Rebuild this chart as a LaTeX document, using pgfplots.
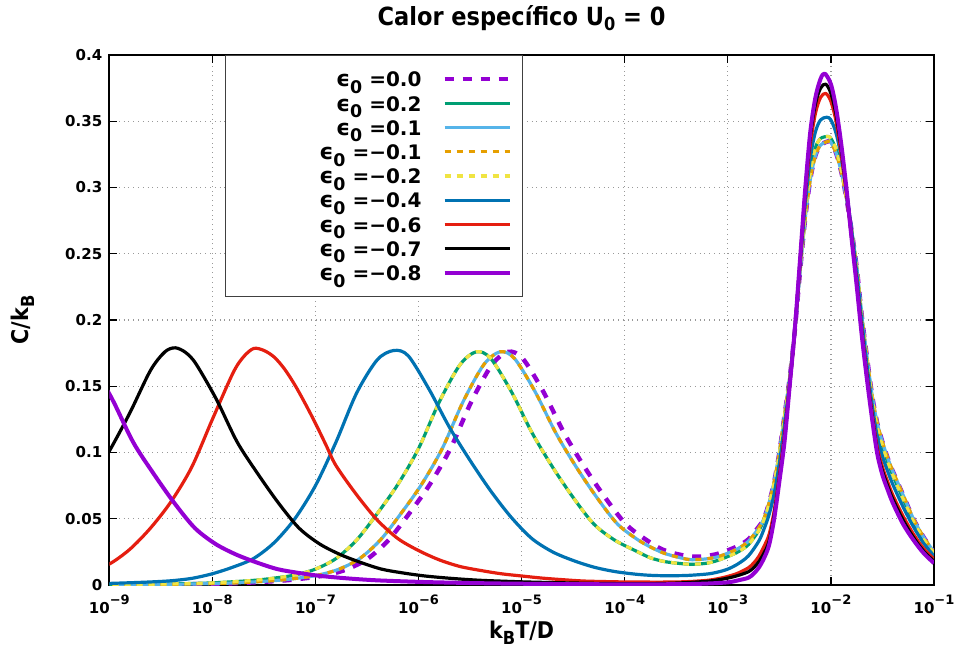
\documentclass[border=0pt]{standalone}
\usepackage{fontspec}
\setmainfont{DejaVu Sans}
\newfontfamily\condfont[FakeStretch=0.9]{DejaVu Sans}
\usepackage{pgfplots}
\usepackage{pgfplotstable}
\pgfplotsset{compat=1.18}

\definecolor{cpurple}{RGB}{148,0,211}
\definecolor{cgreen}{RGB}{0,158,115}
\definecolor{ccyan}{RGB}{86,180,233}
\definecolor{corange}{RGB}{230,159,0}
\definecolor{cyellow}{RGB}{240,228,66}
\definecolor{cblue}{RGB}{0,114,178}
\definecolor{cred}{RGB}{229,30,16}

\newcommand{\leg}[1]{\rule[-3pt]{0pt}{12.15pt}\makebox[92.5pt][r]{{\fontsize{11}{12}\selectfont ϵ}\raisebox{-3.3pt}{\fontsize{8.7}{9}\selectfont 0} =#1}}
\newcommand{\sub}[1]{\raisebox{-2.6pt}{\fontsize{9}{9}\selectfont #1}}
\newcommand{\etick}[1]{10\raisebox{4.3pt}{\fontsize{6.5}{7}\selectfont −#1}}

% columns: lx = log10(kB T/D), y = C/kB
% eps0 = 0.0
\pgfplotstableread{
lx y
-8.89 0.0002
-8.49 0.0004
-8.09 0.0008
-7.69 0.0016
-7.29 0.0035
-7.09 0.0052
-6.89 0.0075
-6.69 0.012
-6.49 0.020
-6.29 0.034
-6.09 0.054
-5.89 0.076
-5.69 0.103
-5.49 0.138
-5.29 0.166
-5.13 0.176
-4.99 0.171
-4.79 0.146
-4.59 0.115
-4.39 0.089
-4.19 0.066
-3.99 0.046
-3.79 0.034
-3.64 0.027
-3.5 0.0235
-3.4 0.0220
-3.3 0.0214
-3.2 0.0220
-3.1 0.0235
-3.0 0.0262
-2.9 0.0295
-2.8 0.0345
-2.7 0.0440
-2.65 0.0500
-2.6 0.0620
-2.55 0.0780
-2.5 0.1000
-2.45 0.1280
-2.4 0.1560
-2.35 0.1920
-2.3 0.2360
-2.25 0.2760
-2.2 0.3060
-2.15 0.3240
-2.1 0.3320
-2.02 0.3350
-2.0 0.3340
-1.95 0.3260
-1.9 0.3120
-1.85 0.2920
-1.8 0.2680
-1.75 0.2400
-1.7 0.2030
-1.65 0.1720
-1.6 0.1430
-1.55 0.1220
-1.5 0.1080
-1.45 0.0960
-1.4 0.0860
-1.3 0.0680
-1.2 0.0500
-1.1 0.0360
-1.0 0.0250
}\tzero

% eps0 = +-0.2
\pgfplotstableread{
lx y
-9.2 0.0002
-8.8 0.0004
-8.4 0.0008
-8.0 0.0016
-7.6 0.0035
-7.4 0.0052
-7.2 0.0075
-7.0 0.012
-6.8 0.020
-6.6 0.034
-6.4 0.054
-6.2 0.076
-6.0 0.103
-5.8 0.138
-5.6 0.166
-5.44 0.176
-5.3 0.171
-5.1 0.146
-4.9 0.115
-4.7 0.089
-4.5 0.066
-4.3 0.046
-4.1 0.034
-3.9 0.026
-3.75 0.0205
-3.6 0.0175
-3.4 0.0158
-3.3 0.0158
-3.2 0.0165
-3.1 0.0185
-3.0 0.0215
-2.9 0.0250
-2.8 0.0305
-2.7 0.0410
-2.65 0.0490
-2.6 0.0610
-2.55 0.0770
-2.5 0.0990
-2.45 0.1270
-2.4 0.1560
-2.35 0.1930
-2.3 0.2380
-2.25 0.2790
-2.2 0.3110
-2.15 0.3300
-2.1 0.3370
-2.03 0.3385
-2.0 0.3370
-1.95 0.3290
-1.9 0.3140
-1.85 0.2930
-1.8 0.2680
-1.75 0.2390
-1.7 0.2020
-1.65 0.1700
-1.6 0.1410
-1.55 0.1190
-1.5 0.1050
-1.45 0.0930
-1.4 0.0830
-1.3 0.0650
-1.2 0.0480
-1.1 0.0345
-1.0 0.0240
}\ttwo

% eps0 = +-0.1
\pgfplotstableread{
lx y
-8.97 0.0002
-8.57 0.0004
-8.17 0.0008
-7.77 0.0016
-7.37 0.0035
-7.17 0.0052
-6.97 0.0075
-6.77 0.012
-6.57 0.020
-6.37 0.034
-6.17 0.054
-5.97 0.076
-5.77 0.103
-5.57 0.138
-5.37 0.166
-5.21 0.176
-5.07 0.171
-4.87 0.146
-4.67 0.115
-4.47 0.089
-4.27 0.066
-4.07 0.046
-3.87 0.034
-3.72 0.0275
-3.6 0.0235
-3.4 0.0195
-3.3 0.0192
-3.2 0.0198
-3.1 0.0212
-3.0 0.0240
-2.9 0.0275
-2.8 0.0330
-2.7 0.0430
-2.65 0.0500
-2.6 0.0620
-2.55 0.0780
-2.5 0.1000
-2.45 0.1280
-2.4 0.1560
-2.35 0.1920
-2.3 0.2360
-2.25 0.2760
-2.2 0.3060
-2.15 0.3240
-2.1 0.3320
-2.02 0.3350
-2.0 0.3340
-1.95 0.3260
-1.9 0.3120
-1.85 0.2920
-1.8 0.2680
-1.75 0.2400
-1.7 0.2030
-1.65 0.1720
-1.6 0.1430
-1.55 0.1220
-1.5 0.1080
-1.45 0.0960
-1.4 0.0860
-1.3 0.0680
-1.2 0.0500
-1.1 0.0360
-1.0 0.0250
}\tone

% eps0 = -0.4
\pgfplotstableread{
lx y
-9.2 0.0008
-9.0 0.0012
-8.8 0.0017
-8.6 0.0023
-8.4 0.0032
-8.2 0.0050
-8.0 0.0085
-7.8 0.0135
-7.6 0.020
-7.4 0.032
-7.2 0.050
-7.0 0.075
-6.8 0.108
-6.6 0.145
-6.4 0.170
-6.24 0.177
-6.1 0.173
-5.9 0.148
-5.7 0.119
-5.5 0.094
-5.3 0.071
-5.1 0.051
-4.9 0.035
-4.7 0.025
-4.5 0.0185
-4.3 0.0135
-4.1 0.0102
-3.9 0.0082
-3.75 0.0073
-3.6 0.0070
-3.4 0.0072
-3.2 0.0083
-3.1 0.0097
-3.0 0.0120
-2.9 0.0160
-2.8 0.0220
-2.7 0.0330
-2.65 0.0420
-2.6 0.0530
-2.55 0.0690
-2.5 0.0920
-2.45 0.1210
-2.4 0.1530
-2.35 0.1920
-2.3 0.2400
-2.25 0.2860
-2.2 0.3220
-2.15 0.3420
-2.1 0.3510
-2.04 0.3530
-2.0 0.3510
-1.95 0.3410
-1.9 0.3230
-1.85 0.2980
-1.8 0.2680
-1.75 0.2360
-1.7 0.1990
-1.65 0.1660
-1.6 0.1360
-1.55 0.1120
-1.5 0.0970
-1.45 0.0860
-1.4 0.0760
-1.3 0.0590
-1.2 0.0440
-1.1 0.0315
-1.0 0.0220
}\tfour

% eps0 = -0.6
\pgfplotstableread{
lx y
-9.2 0.010
-9.0 0.0158
-8.8 0.027
-8.6 0.043
-8.4 0.063
-8.2 0.089
-8.0 0.125
-7.8 0.160
-7.7 0.172
-7.6 0.1785
-7.5 0.177
-7.4 0.172
-7.3 0.163
-7.2 0.151
-7.1 0.137
-7.0 0.122
-6.9 0.106
-6.8 0.090
-6.6 0.068
-6.4 0.049
-6.2 0.035
-6.0 0.026
-5.8 0.019
-5.6 0.014
-5.4 0.011
-5.2 0.0085
-5.0 0.0068
-4.8 0.0052
-4.6 0.0040
-4.4 0.0030
-4.2 0.0026
-4.0 0.0023
-3.8 0.0022
-3.6 0.0022
-3.4 0.0025
-3.2 0.0035
-3.1 0.0047
-3.0 0.0065
-2.9 0.0090
-2.8 0.0130
-2.75 0.0165
-2.7 0.0215
-2.65 0.0290
-2.6 0.0380
-2.55 0.0560
-2.5 0.0830
-2.45 0.1140
-2.4 0.1510
-2.35 0.1920
-2.3 0.2430
-2.25 0.2930
-2.2 0.3320
-2.15 0.3560
-2.1 0.3680
-2.05 0.3710
-2.0 0.3650
-1.95 0.3500
-1.9 0.3250
-1.85 0.2960
-1.8 0.2630
-1.75 0.2290
-1.7 0.1920
-1.65 0.1590
-1.6 0.1300
-1.55 0.1040
-1.5 0.0890
-1.45 0.0780
-1.4 0.0680
-1.3 0.0520
-1.2 0.0385
-1.1 0.0275
-1.0 0.0195
}\tsix

% eps0 = -0.7
\pgfplotstableread{
lx y
-9.2 0.075
-9.0 0.101
-8.8 0.130
-8.6 0.162
-8.46 0.176
-8.36 0.179
-8.26 0.1755
-8.16 0.167
-7.96 0.140
-7.76 0.108
-7.56 0.084
-7.36 0.062
-7.16 0.043
-6.96 0.031
-6.76 0.023
-6.56 0.017
-6.36 0.012
-6.16 0.0092
-5.96 0.0070
-5.76 0.0055
-5.56 0.0043
-5.36 0.0034
-4.96 0.0023
-4.56 0.0016
-4.16 0.0011
-3.8 0.0010
-3.6 0.0012
-3.4 0.0018
-3.2 0.0028
-3.1 0.0038
-3.0 0.0052
-2.9 0.0072
-2.8 0.0100
-2.75 0.0130
-2.7 0.0175
-2.65 0.0240
-2.6 0.0330
-2.55 0.0530
-2.5 0.0800
-2.45 0.1110
-2.4 0.1505
-2.35 0.1925
-2.3 0.2440
-2.25 0.2960
-2.2 0.3380
-2.15 0.3630
-2.1 0.3750
-2.05 0.3780
-2.0 0.3710
-1.95 0.3550
-1.9 0.3290
-1.85 0.2980
-1.8 0.2630
-1.75 0.2280
-1.7 0.1900
-1.65 0.1570
-1.6 0.1280
-1.55 0.1010
-1.5 0.0860
-1.45 0.0750
-1.4 0.0650
-1.3 0.0490
-1.2 0.0360
-1.1 0.0255
-1.0 0.0180
}\tseven

% eps0 = -0.8
\pgfplotstableread{
lx y
-9.77 0.135
-9.57 0.168
-9.47 0.175
-9.37 0.178
-9.27 0.1755
-9.17 0.167
-8.97 0.140
-8.77 0.108
-8.57 0.084
-8.37 0.062
-8.17 0.043
-7.97 0.031
-7.77 0.023
-7.57 0.017
-7.37 0.012
-7.17 0.0092
-6.97 0.0070
-6.77 0.0055
-6.57 0.0043
-6.37 0.0034
-5.97 0.0023
-5.57 0.0016
-5.17 0.0011
-4.77 0.0008
-4.37 0.0006
-3.8 0.0005
-3.4 0.0007
-3.2 0.0011
-3.0 0.0020
-2.9 0.0035
-2.8 0.0055
-2.75 0.0085
-2.7 0.013
-2.65 0.020
-2.6 0.030
-2.55 0.050
-2.5 0.078
-2.45 0.108
-2.4 0.150
-2.35 0.193
-2.3 0.245
-2.25 0.298
-2.2 0.342
-2.15 0.368
-2.1 0.382
-2.06 0.386
-2.0 0.378
-1.95 0.360
-1.9 0.333
-1.85 0.300
-1.8 0.262
-1.75 0.226
-1.7 0.188
-1.65 0.155
-1.6 0.125
-1.55 0.099
-1.5 0.083
-1.45 0.072
-1.4 0.062
-1.3 0.046
-1.2 0.034
-1.1 0.024
-1.0 0.0165
}\teight

\begin{document}
\begin{tikzpicture}
\begin{axis}[
    scale only axis,
    width=412.35pt, height=265pt,
    xmode=log, log basis x=10,
    xmin=1e-9, xmax=1e-1,
    ymin=0, ymax=0.4,
    xtick={1e-9,1e-8,1e-7,1e-6,1e-5,1e-4,1e-3,1e-2,1e-1},
    xticklabels={\etick{9},\etick{8},\etick{7},\etick{6},\etick{5},\etick{4},\etick{3},\etick{2},\etick{1}},
    xticklabel style={yshift=-1.5pt},
    ytick={0,0.05,0.1,0.15,0.2,0.25,0.3,0.35,0.4},
    yticklabels={0,0.05,0.1,0.15,0.2,0.25,0.3,0.35,0.4},
    scaled y ticks=false,
    tick align=inside,
    major tick length=4pt, minor tick length=2.2pt,
    every tick/.style={black, line width=0.6pt},
    ticklabel style={font=\fontsize{7.5}{9}\selectfont\bfseries},
    axis line style={line width=1pt},
    grid=major,
    grid style={dotted, gray!80, line width=0.6pt},
    title={\condfont\bfseries Calor específico U\sub{0} = 0},
    title style={font=\fontsize{12.5}{14}\selectfont, at={(axis description cs:0.5,1)}, anchor=south, yshift=2.5pt},
    xlabel={\condfont\bfseries k\sub{B}T/D},
    xlabel style={font=\fontsize{11.5}{13}\selectfont, at={(axis description cs:0.5,-0.09)}, anchor=center},
    ylabel={\condfont\bfseries C/k\sub{B}},
    ylabel style={font=\fontsize{11.5}{13}\selectfont, at={(axis description cs:-0.105,0.5)}, anchor=center, rotate=0},
    no markers,
    every axis plot/.append style={smooth, line join=round},
    legend plot pos=right,
    legend cell align=right,
    legend image code/.code={\draw[#1] (0pt,0pt) -- (32.5pt,0pt);},
    legend style={at={(0.1403,1)}, anchor=north west, draw=black!75, line width=0.5pt,
        fill=white, font=\fontsize{10}{12}\selectfont\bfseries,
        inner xsep=5.5pt, inner ysep=6.5pt, column sep=10.5pt, row sep=1.45pt,
        nodes={inner sep=0pt}},
]
\addplot[cpurple, line width=2.2pt, dash pattern=on 4.5pt off 4.5pt] table[x expr=10^(\thisrow{lx}), y=y] {\tzero};
\addlegendentry{\leg{0.0}}
\addplot[cgreen, line width=1.6pt] table[x expr=10^(\thisrow{lx}), y=y] {\ttwo};
\addlegendentry{\leg{0.2}}
\addplot[ccyan, line width=1.6pt] table[x expr=10^(\thisrow{lx}), y=y] {\tone};
\addlegendentry{\leg{0.1}}
\addplot[corange, line width=1.6pt, dash pattern=on 3pt off 3pt] table[x expr=10^(\thisrow{lx}), y=y] {\tone};
\addlegendentry{\leg{−0.1}}
\addplot[cyellow, line width=1.6pt, dash pattern=on 3pt off 3pt] table[x expr=10^(\thisrow{lx}), y=y] {\ttwo};
\addlegendentry{\leg{−0.2}}
\addplot[cblue, line width=1.6pt] table[x expr=10^(\thisrow{lx}), y=y] {\tfour};
\addlegendentry{\leg{−0.4}}
\addplot[cred, line width=1.6pt] table[x expr=10^(\thisrow{lx}), y=y] {\tsix};
\addlegendentry{\leg{−0.6}}
\addplot[black, line width=1.6pt] table[x expr=10^(\thisrow{lx}), y=y] {\tseven};
\addlegendentry{\leg{−0.7}}
\addplot[cpurple, line width=2pt] table[x expr=10^(\thisrow{lx}), y=y] {\teight};
\addlegendentry{\leg{−0.8}}
\coordinate (bl) at (rel axis cs:0,0);
\coordinate (tr) at (rel axis cs:1,1);
\end{axis}
\pgfresetboundingbox
\path[use as bounding box] ([xshift=-54.65pt,yshift=-33.5pt]bl) rectangle ([xshift=11.5pt,yshift=27.5pt]tr);
\end{tikzpicture}
\end{document}
